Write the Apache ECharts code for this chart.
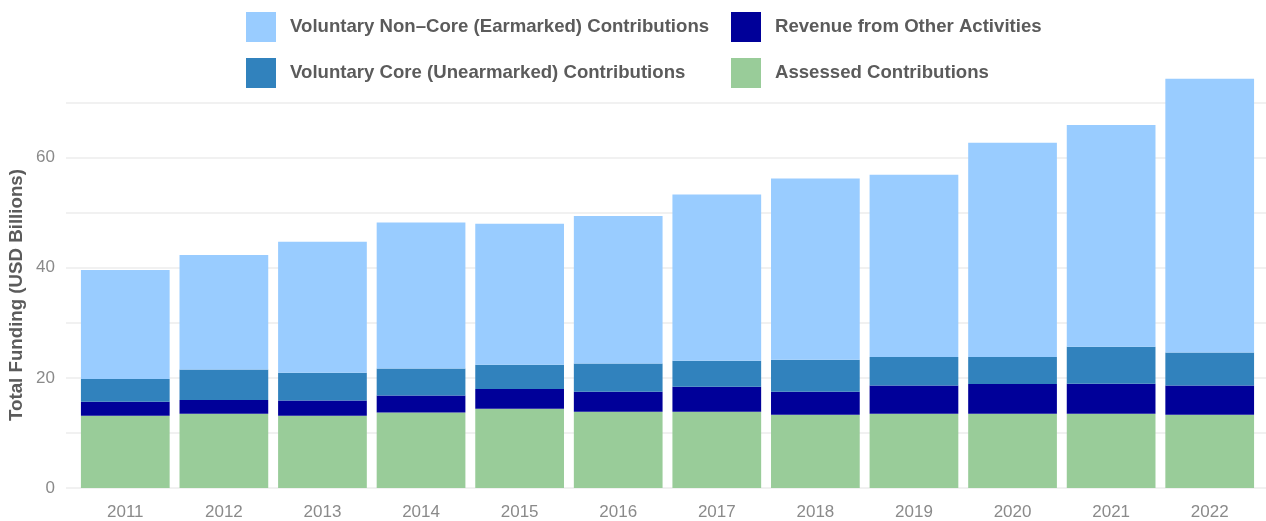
<!DOCTYPE html>
<html>
<head>
<meta charset="utf-8">
<script src="https://cdn.jsdelivr.net/npm/echarts@6/dist/echarts.min.js"></script>
<style>
  html, body { margin: 0; padding: 0; background: #fff; }
  #chart { width: 1266px; height: 521px; }
</style>
</head>
<body>
<div id="chart"></div>
<script>
// years on the x axis
const years = ['2011', '2012', '2013', '2014', '2015', '2016', '2017', '2018', '2019', '2020', '2021', '2022'];

// stacked values, USD billions
const assessed = [13.1, 13.5, 13.1, 13.7, 14.4, 13.85, 13.85, 13.3, 13.5, 13.5, 13.5, 13.3];
const revenueOther = [2.55, 2.5, 2.8, 3.1, 3.6, 3.65, 4.55, 4.2, 5.1, 5.4, 5.45, 5.3];
const coreUnearmarked = [4.15, 5.5, 5.05, 4.9, 4.4, 5.1, 4.7, 5.8, 5.2, 4.9, 6.7, 6.0];
const nonCoreEarmarked = [19.8, 20.8, 23.75, 26.5, 25.6, 26.8, 30.2, 32.9, 33.1, 38.9, 40.25, 49.7];

const yMax = 75;
const FONT = '"Liberation Sans", Arial, Helvetica, sans-serif';

const chart = echarts.init(document.getElementById('chart'));

const legendText = { fontFamily: FONT, fontSize: 18.6, fontWeight: 'bold', color: '#5b5b5b', padding: [0, 0, 0, 9] };

const barSeries = (name, data, color) => ({
  name: name,
  type: 'bar',
  stack: 'total',
  xAxisIndex: 0,
  yAxisIndex: 0,
  barCategoryGap: '10%',
  itemStyle: { color: color },
  emphasis: { disabled: true },
  data: data
});

const option = {
  animation: false,
  backgroundColor: '#ffffff',
  legend: [
    {
      orient: 'vertical',
      left: 241,
      top: 7,
      itemWidth: 30,
      itemHeight: 30,
      itemGap: 16,
      icon: 'rect',
      selectedMode: false,
      textStyle: legendText,
      data: ['Voluntary Non\u2013Core (Earmarked) Contributions', 'Voluntary Core (Unearmarked) Contributions']
    },
    {
      orient: 'vertical',
      left: 726,
      top: 7,
      itemWidth: 30,
      itemHeight: 30,
      itemGap: 16,
      icon: 'rect',
      selectedMode: false,
      textStyle: legendText,
      data: ['Revenue from Other Activities', 'Assessed Contributions']
    }
  ],
  grid: [
    // bars
    { left: 76, right: 7, top: 75, bottom: 33, containLabel: false },
    // background gridlines, slightly wider
    { left: 66, right: 0, top: 75, bottom: 33, containLabel: false }
  ],
  xAxis: [
    {
      type: 'category',
      gridIndex: 0,
      data: years,
      axisLine: { show: false },
      axisTick: { show: false },
      axisLabel: { color: '#8a8a8a', fontSize: 17, fontFamily: FONT, margin: 16 }
    },
    { type: 'value', gridIndex: 1, show: false, min: 0, max: 1 }
  ],
  yAxis: [
    {
      type: 'value',
      gridIndex: 0,
      min: 0,
      max: yMax,
      interval: 10,
      axisLine: { show: false },
      axisTick: { show: false },
      axisLabel: { show: false },
      splitLine: { show: false }
    },
    {
      type: 'value',
      gridIndex: 1,
      min: 0,
      max: yMax,
      interval: 10,
      axisLine: { show: false },
      axisTick: { show: false },
      axisLabel: {
        color: '#8a8a8a',
        fontSize: 17,
        fontFamily: FONT,
        margin: 11,
        formatter: v => (v % 20 === 0 ? String(v) : '')
      },
      splitLine: { show: true, showMaxLine: false, lineStyle: { color: '#ececec', width: 1.5 } }
    }
  ],
  graphic: [
    {
      type: 'text',
      x: 17,
      y: 295,
      rotation: Math.PI / 2,
      style: {
        text: 'Total Funding (USD Billions)',
        fill: '#5b5b5b',
        font: 'bold 18.7px ' + FONT,
        align: 'center',
        verticalAlign: 'middle'
      }
    }
  ],
  series: [
    barSeries('Assessed Contributions', assessed, '#99cc99'),
    barSeries('Revenue from Other Activities', revenueOther, '#000099'),
    barSeries('Voluntary Core (Unearmarked) Contributions', coreUnearmarked, '#3182bd'),
    barSeries('Voluntary Non\u2013Core (Earmarked) Contributions', nonCoreEarmarked, '#99ccff')
  ]
};

chart.setOption(option);
</script>
</body>
</html>
